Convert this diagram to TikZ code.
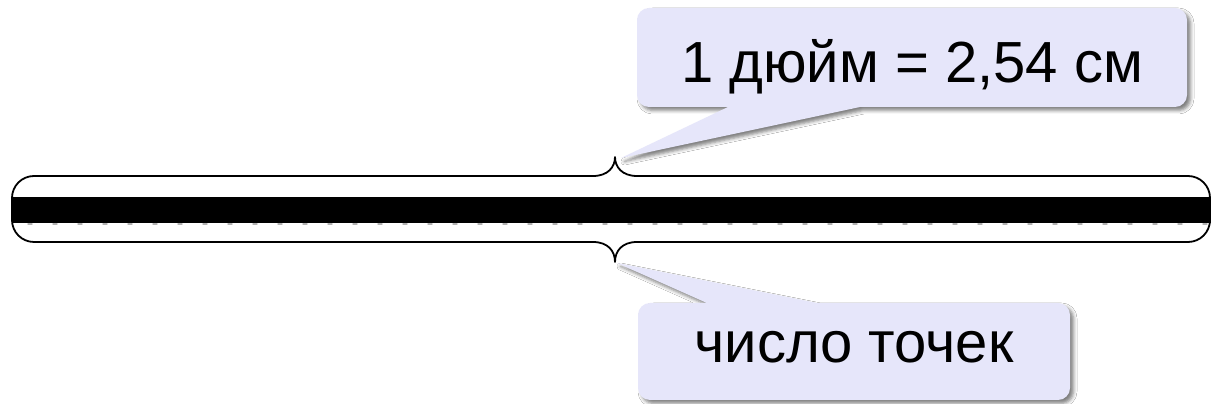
\documentclass[tikz,border=0pt]{standalone}
\usepackage{fontspec}
\setmainfont{Liberation Sans}
\usetikzlibrary{shadows.blur}
\definecolor{calloutfill}{RGB}{230,230,250}
\begin{document}
\begin{tikzpicture}[x=1pt,y=1pt,
  bracket/.style={line width=1.8pt, line cap=round, line join=round},
  callout/.style={fill=calloutfill,
    blur shadow={shadow xshift=3.5pt, shadow yshift=-3.5pt,
                 shadow blur radius=3.5pt, shadow opacity=50}},
  label/.style={font=\fontsize{58}{70}\selectfont, anchor=base, inner sep=0pt},
  dotgap/.style={fill=gray!60}]
\useasboundingbox (0,0) rectangle (1211,404);
\fill[white] (0,0) rectangle (1211,404);

% tips of the two braces and of the callout pointers
\coordinate (topTip) at (615,247);
\coordinate (botTip) at (615,142);
\coordinate (topPtr) at (621,246);
\coordinate (botPtr) at (617,141);

% upper brace
\draw[bracket] (12,195) -- (12,206) arc[start angle=180,end angle=90,radius=22]
  -- (593,228) .. controls (608,228) and (615,237) .. (topTip)
  .. controls (615,237) and (622,228) .. (637,228)
  -- (1188,228) arc[start angle=90,end angle=0,radius=22] -- (1210,195);
% lower brace
\draw[bracket] (12,195) -- (12,184) arc[start angle=180,end angle=270,radius=22]
  -- (593,162) .. controls (608,162) and (615,153) .. (botTip)
  .. controls (615,153) and (622,162) .. (637,162)
  -- (1188,162) arc[start angle=270,end angle=360,radius=22] -- (1210,195);

% row of printed dots
\fill[black] (12,181) rectangle (1211,207);
\foreach \k in {1,...,48}
  \fill[dotgap] (5+25*\k,180) ellipse [x radius=3, y radius=1];

% upper callout
\fill[callout] (728,297) -- (649,297) arc[start angle=270,end angle=180,radius=12]
  -- (637,384) arc[start angle=180,end angle=90,radius=12]
  -- (1175,396) arc[start angle=90,end angle=0,radius=12]
  -- (1187,309) arc[start angle=0,end angle=-90,radius=12]
  -- (860,297) -- (topPtr) -- cycle;
\node[label] (inch) at (912,321) {1 дюйм = 2,54 см};

% lower callout
\fill[callout] (817,101) -- (1058,101) arc[start angle=90,end angle=0,radius=12]
  -- (1070,16) arc[start angle=0,end angle=-90,radius=12]
  -- (650,4) arc[start angle=270,end angle=180,radius=12]
  -- (638,89) arc[start angle=180,end angle=90,radius=12]
  -- (707,101) -- (botPtr) -- cycle;
\node[label] (count) at (854,41) {число точек};
\end{tikzpicture}
\end{document}
